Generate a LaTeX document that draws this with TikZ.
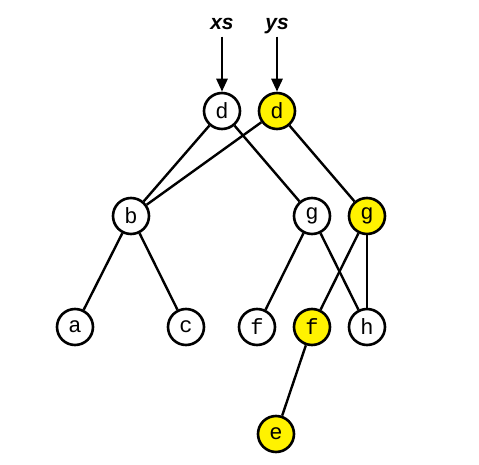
\documentclass[tikz,border=0pt]{standalone}
\usepackage{fontspec}
\setmonofont{Liberation Mono}
\setsansfont{Liberation Sans}
\usetikzlibrary{arrows.meta}
\definecolor{hl}{RGB}{255,242,0}

\begin{document}
\begin{tikzpicture}[x=1pt,y=-1pt,
    tnode/.style={circle,draw,line width=2.6pt,minimum size=36pt,inner sep=0pt,
      font=\ttfamily\fontsize{22}{22}\selectfont},
    shared/.style={tnode,fill=hl},
    edge/.style={line width=2.4pt},
    ptr/.style={line width=2.8pt,-{Triangle[length=13pt,width=11pt]}},
    vname/.style={font=\sffamily\bfseries\itshape\fontsize{21}{21}\selectfont,
      text height=10pt,text depth=5pt,inner sep=2pt}]
				\useasboundingbox (0,0) rectangle (479,465);
				% old tree
				\node[tnode] (d1) at (222,111) {d};
				\node[tnode] (b) at (131,216) {b};
				\node[tnode] (g1) at (312,216) {g};
				\node[tnode] (a) at (75,327) {a};
				\node[tnode] (c) at (186,327) {c};
				\node[tnode] (f1) at (257,327) {f};
				\node[tnode] (h) at (367,327) {h};
				% new path
				\node[shared] (d2) at (277,111) {d};
				\node[shared] (g2) at (367,216) {g};
				\node[shared] (f2) at (312,327) {f};
				\node[shared] (e) at (276,434) {e};
				% names
				\node[vname] (xs) at (222,27) {xs};
				\node[vname] (ys) at (277,27) {ys};
				\draw[ptr] (xs) -- (d1);
				\draw[ptr] (ys) -- (d2);
				\draw[edge] (d1) -- (b);
				\draw[edge] (d1) -- (g1);
				\draw[edge] (d2) -- (b);
				\draw[edge] (d2) -- (g2);
				\draw[edge] (b) -- (a);
				\draw[edge] (b) -- (c);
				\draw[edge] (g1) -- (f1);
				\draw[edge] (g1) -- (h);
				\draw[edge] (g2) -- (f2);
				\draw[edge] (g2) -- (h);
				\draw[edge] (f2) -- (e);
			\end{tikzpicture}
\end{document}
